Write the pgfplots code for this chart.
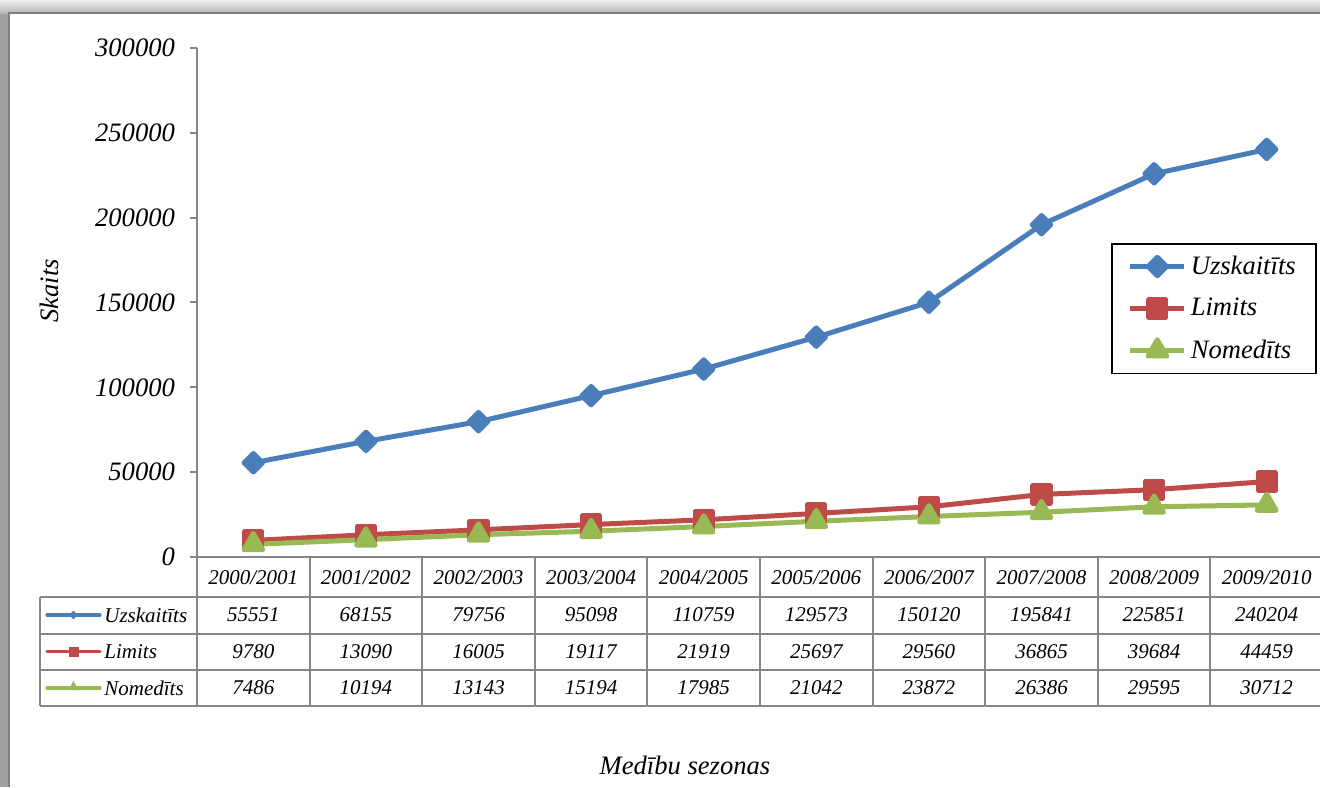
\documentclass[border=0pt]{standalone}
\usepackage{fontspec}
\setmainfont{Liberation Serif}
\usepackage{pgfplots}
\usepackage{pgfplotstable}
\usetikzlibrary{shapes.geometric}
\pgfplotsset{compat=1.18}
\definecolor{cU}{RGB}{74,126,187}
\definecolor{cL}{RGB}{190,75,72}
\definecolor{cN}{RGB}{152,185,84}
\definecolor{gridg}{RGB}{134,134,134}
\definecolor{frameg}{RGB}{160,160,160}
\definecolor{framel}{RGB}{128,128,128}

\pgfplotstableread{
x U L N
0 55551 9780 7486
1 68155 13090 10194
2 79756 16005 13143
3 95098 19117 15194
4 110759 21919 17985
5 129573 25697 21042
6 150120 29560 23872
7 195841 36865 26386
8 225851 39684 29595
9 240204 44459 30712
}\datatable

\newcommand{\bigf}{\fontsize{13.3}{16}\selectfont\itshape}
\newcommand{\smf}{\fontsize{10.5}{12.6}\selectfont\itshape}

\begin{document}
\begin{tikzpicture}
\useasboundingbox (0,0) rectangle (660pt,393.5pt);
\begin{scope}[x=0.5pt,y=-0.5pt,yshift=393.5pt]
  \fill[white] (0,0) rectangle (1320,787);
  \fill[frameg] (0,0) rectangle (9,787);
  \shade[top color=gray!12, bottom color=gray!60] (0,0) rectangle (1320,14);
  \draw[framel, line width=1pt] (8.5,787) -- (8.5,13.5) -- (1320,13.5);
\end{scope}

\begin{axis}[
  at={(98.5pt,115pt)}, anchor=south west,
  scale only axis, width=563pt, height=254.5pt,
  xmin=-0.5, xmax=9.5, ymin=0, ymax=300000,
  axis x line*=bottom, axis y line*=left,
  axis line style={gridg, line width=1pt},
  xtick=\empty,
  ytick={0,50000,100000,150000,200000,250000,300000},
  tick style={gridg, line width=1pt},
  tick align=outside, major tick length=3.5pt,
  scaled y ticks=false,
  /pgf/number format/fixed,
  /pgf/number format/precision=0,
  /pgf/number format/assume math mode=true,
  /pgf/number format/1000 sep={},
  yticklabel style={font=\bigf, xshift=-4pt},
  clip=false,
  legend cell align=left,
  legend image code/.code={\draw[mark repeat=2,mark phase=2,#1] plot coordinates {(0pt,0pt)(13.5pt,0pt)(27pt,0pt)};},
  legend style={at={(0.8117,0.6169)}, anchor=north west, draw=black, line width=0.8pt,
    font=\bigf, row sep=6.5pt, inner xsep=8pt, inner ysep=4pt},
]
\addplot[cU, line width=2.5pt, line join=round, mark=diamond*, mark size=4.6pt, mark options={solid, xscale=1.333}] table[x=x,y=U]{\datatable};
\addlegendentry{Uzskaitīts}
\addplot[cL, line width=2.5pt, line join=round, mark=square*, mark size=4.3pt, mark options={solid}] table[x=x,y=L]{\datatable};
\addlegendentry{Limits}
\addplot[cN, line width=2.5pt, line join=round, mark=triangle*, mark size=5.4pt, mark options={solid}] table[x=x,y=N]{\datatable};
\addlegendentry{Nomedīts}
\end{axis}

\begin{scope}[x=0.5pt,y=-0.5pt,yshift=393.5pt]
  \foreach \k in {0,...,10} {
    \draw[gridg, line width=1pt] ({197+112.6*\k},557) -- ({197+112.6*\k},706);
  }
  \foreach \yy in {597,633.5,670,706} {
    \draw[gridg, line width=1pt] (40,\yy) -- (1330,\yy);
  }
  \draw[gridg, line width=1pt] (40,597) -- (40,706);
  \foreach \i/\lab in {0/2000\slash 2001,1/2001\slash 2002,2/2002\slash 2003,3/2003\slash 2004,4/2004\slash 2005,5/2005\slash 2006,6/2006\slash 2007,7/2007\slash 2008,8/2008\slash 2009,9/2009\slash 2010} {
    \node[font=\smf] at ({197+112.6*(\i+0.5)},578) {\lab};
  }
  \foreach \i in {0,...,9} {
    \pgfplotstablegetelem{\i}{U}\of\datatable
    \node[font=\smf] at ({197+112.6*(\i+0.5)},615) {\pgfplotsretval};
    \pgfplotstablegetelem{\i}{L}\of\datatable
    \node[font=\smf] at ({197+112.6*(\i+0.5)},651.5) {\pgfplotsretval};
    \pgfplotstablegetelem{\i}{N}\of\datatable
    \node[font=\smf] at ({197+112.6*(\i+0.5)},688) {\pgfplotsretval};
  }
  \draw[cU, line width=1.6pt, line cap=round] (47,615) -- (100,615);
  \node[cU, fill, diamond, inner sep=0pt, minimum size=4.5pt] at (73.5,615) {};
  \draw[cL, line width=1.6pt, line cap=round] (47,651.5) -- (100,651.5);
  \node[cL, fill, rectangle, inner sep=0pt, minimum size=5pt] at (73.5,651.5) {};
  \draw[cN, line width=1.6pt, line cap=round] (47,688) -- (100,688);
  \node[cN, fill, regular polygon, regular polygon sides=3, inner sep=0pt, minimum size=6pt] at (73.5,687) {};
  \node[font=\smf, anchor=west, inner sep=0pt] at (104,615) {Uzskaitīts};
  \node[font=\smf, anchor=west, inner sep=0pt] at (104,651.5) {Limits};
  \node[font=\smf, anchor=west, inner sep=0pt] at (104,688) {Nomedīts};
  \node[font=\bigf, rotate=90] at (49,291) {Skaits};
  \node[font=\bigf] at (685,765) {Medību sezonas};
\end{scope}
\end{tikzpicture}
\end{document}
